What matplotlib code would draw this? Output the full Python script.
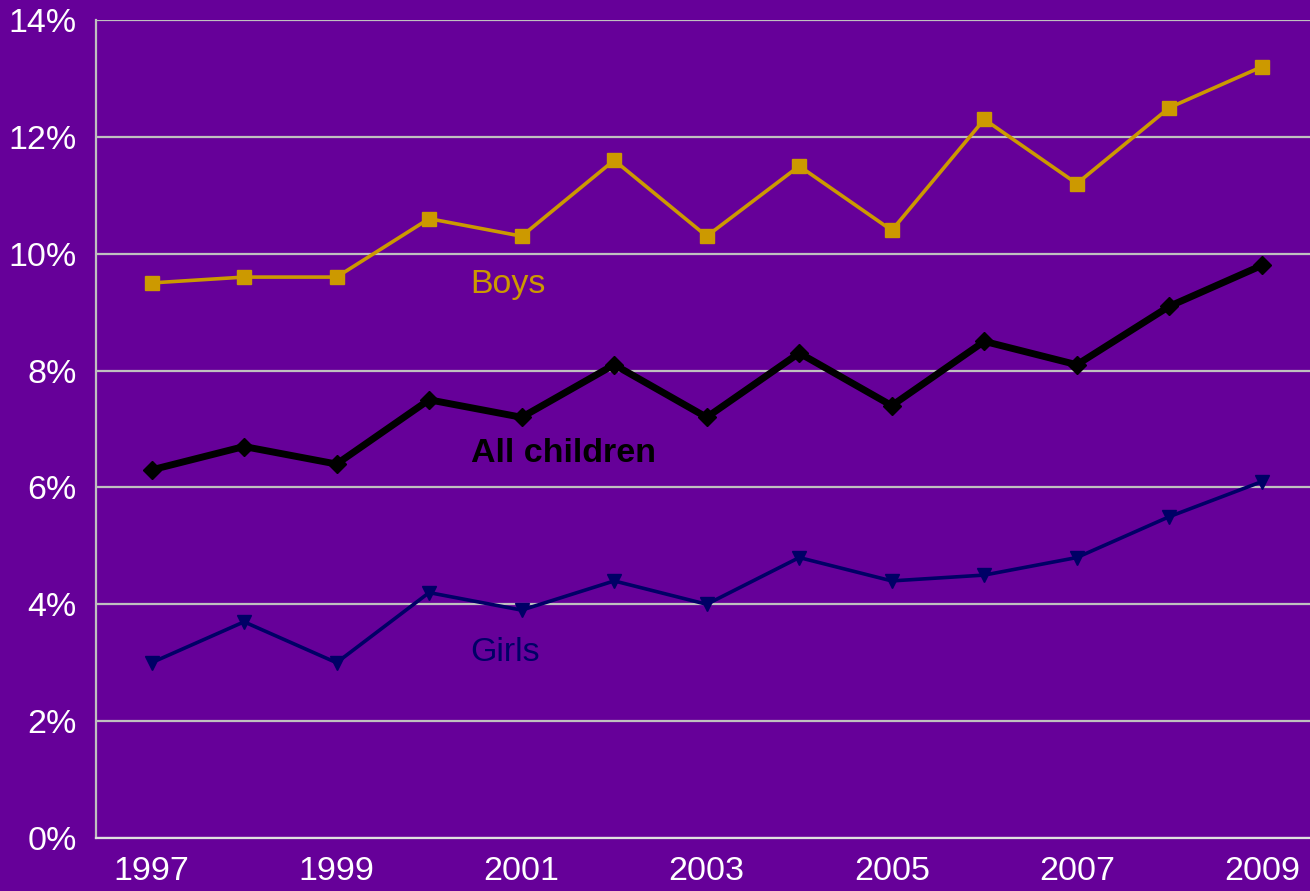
import matplotlib
matplotlib.use("Agg")
import matplotlib.pyplot as plt
from matplotlib.ticker import FuncFormatter

plt.rcParams["font.family"] = ["Liberation Sans", "DejaVu Sans"]

# data (percent)
years = [1997, 1998, 1999, 2000, 2001, 2002, 2003, 2004, 2005, 2006, 2007, 2008, 2009]
boys = [9.5, 9.6, 9.6, 10.6, 10.3, 11.6, 10.3, 11.5, 10.4, 12.3, 11.2, 12.5, 13.2]
all_children = [6.3, 6.7, 6.4, 7.5, 7.2, 8.1, 7.2, 8.3, 7.4, 8.5, 8.1, 9.1, 9.8]
girls = [3.0, 3.7, 3.0, 4.2, 3.9, 4.4, 4.0, 4.8, 4.4, 4.5, 4.8, 5.5, 6.1]
year_ticks = [1997, 1999, 2001, 2003, 2005, 2007, 2009]
pct_ticks = [0, 2, 4, 6, 8, 10, 12, 14]

BG = "#660099"
GOLD = "#CC9900"
NAVY = "#000066"
GRID = "#C0C0C0"

W, H = 1310, 891
fig = plt.figure(figsize=(W / 100, H / 100), dpi=100, facecolor=BG)
ax = fig.add_axes([96 / W, 1 - 838 / H, 1214 / W, 818 / H], facecolor=BG)

ax.plot(years, boys, color=GOLD, lw=2.6, marker="s", ms=9.5, zorder=3)
ax.plot(years, all_children, color="black", lw=5, marker="D", ms=9.5, zorder=3)
ax.plot(years, girls, color=NAVY, lw=2.6, marker="v", ms=10, zorder=3)

ax.text(2000.45, 9.48, "Boys", color=GOLD, fontsize=24.5, va="center")
ax.text(2000.45, 6.58, "All children", color="black", fontsize=24.5,
        fontweight="bold", va="center")
ax.text(2000.45, 3.18, "Girls", color=NAVY, fontsize=24.5, va="center")

ax.set_xlim(1996.4, 2009.52)
ax.set_ylim(0, 14)
ax.set_xticks(year_ticks)
ax.set_yticks(pct_ticks)
ax.yaxis.set_major_formatter(FuncFormatter(lambda v, p: f"{v:.0f}%"))
ax.tick_params(colors="white", labelsize=24.5, length=0)
ax.tick_params(axis="y", pad=14)
ax.tick_params(axis="x", pad=13)

ax.grid(axis="y", color=GRID, lw=1.6)
ax.set_axisbelow(True)
for side in ["top", "right"]:
    ax.spines[side].set_visible(False)
ax.spines["left"].set_color(GRID)
ax.spines["left"].set_linewidth(1.6)
ax.spines["bottom"].set_color("#E0E0E0")
ax.spines["bottom"].set_linewidth(1.6)

fig.savefig("out.png", dpi=100, facecolor=BG)
